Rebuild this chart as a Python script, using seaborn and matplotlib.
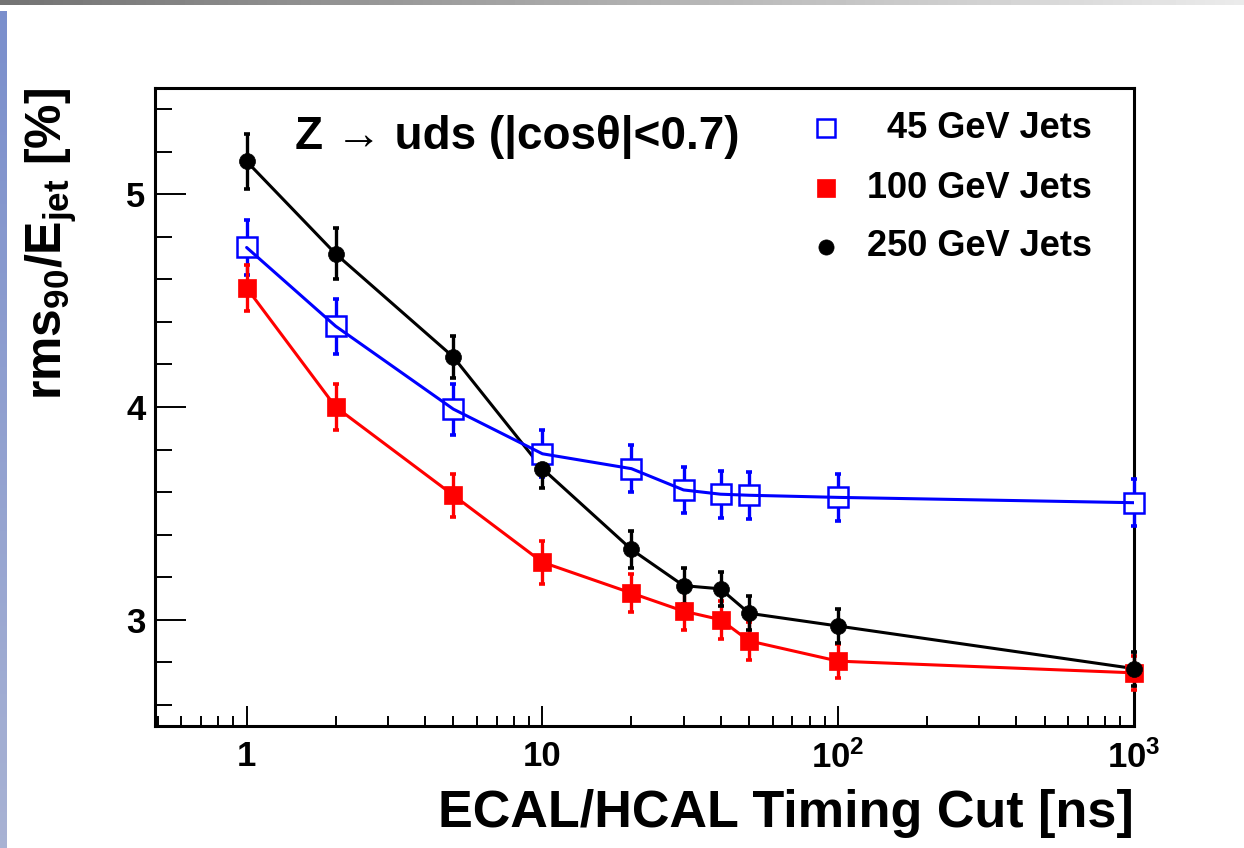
import numpy as np
import pandas as pd
import matplotlib
matplotlib.use("Agg")
import matplotlib.pyplot as plt
import seaborn as sns
from matplotlib.ticker import FixedLocator, NullFormatter, LogLocator, FixedFormatter

# ---------------- data ----------------
cuts = [1, 2, 5, 10, 20, 30, 40, 50, 100, 1000]
res45 = [4.75, 4.38, 3.99, 3.78, 3.71, 3.61, 3.59, 3.585, 3.575, 3.55]
err45 = [0.13, 0.13, 0.12, 0.11, 0.11, 0.11, 0.11, 0.11, 0.11, 0.11]
res100 = [4.56, 4.00, 3.585, 3.27, 3.125, 3.04, 3.00, 2.90, 2.805, 2.75]
err100 = [0.11, 0.11, 0.10, 0.10, 0.09, 0.09, 0.09, 0.09, 0.08, 0.08]
res250 = [5.155, 4.72, 4.235, 3.71, 3.33, 3.16, 3.145, 3.03, 2.97, 2.77]
err250 = [0.13, 0.12, 0.10, 0.09, 0.085, 0.085, 0.08, 0.08, 0.08, 0.08]
labels = ["45 GeV Jets", "100 GeV Jets", "250 GeV Jets"]
xtick_vals = [1, 10, 100, 1000]
xtick_labels = ["1", "10", r"$10^{2}$", r"$10^{3}$"]
ytick_vals = [3, 4, 5]

# ---------------- style ----------------
sns.set_theme(style="white")
plt.rcParams["font.family"] = ["Liberation Sans", "DejaVu Sans"]
plt.rcParams.update({
    "font.weight": "bold",
    "mathtext.fontset": "custom",
    "mathtext.rm": "Liberation Sans:bold",
    "mathtext.it": "Liberation Sans:bold",
    "mathtext.bf": "Liberation Sans:bold",
    "mathtext.sf": "Liberation Sans:bold",
})

W, H = 1244, 848
fig = plt.figure(figsize=(W / 100, H / 100), dpi=100, facecolor="white")

# slide decorations (top grey band, left blue strip)
top = fig.add_axes([0, 1 - 5 / H, 1, 5 / H])
top.imshow(np.linspace(0.45, 0.92, 256)[None, :], cmap="gray", vmin=0, vmax=1,
           aspect="auto", extent=[0, 1, 0, 1])
top.axis("off")
left = fig.add_axes([0, 0, 7 / W, 1 - 11 / H])
grad = np.linspace(0, 1, 256)[:, None, None]
c_top = np.array([0.48, 0.56, 0.80])
c_bot = np.array([0.66, 0.70, 0.83])
left.imshow(c_bot * (1 - grad) + c_top * grad, origin="lower", aspect="auto",
            extent=[0, 1, 0, 1])
left.axis("off")

x0, x1, y0, y1 = 155, 1134, 88, 726
ax = fig.add_axes([x0 / W, 1 - y1 / H, (x1 - x0) / W, (y1 - y0) / H])
ax.set_facecolor("white")

series = [
    (res45, err45, "#0000ff", dict(marker="s", ms=14, mfc="white", mec="#0000ff", mew=1.8)),
    (res100, err100, "#ff0000", dict(marker="s", ms=13, mfc="#ff0000", mec="#ff0000", mew=0.5)),
    (res250, err250, "black", dict(marker="o", ms=11.5, mfc="black", mec="black", mew=0.5)),
]

for i, (res, err, col, mk) in enumerate(series):
    df = pd.DataFrame({"cut": cuts, "res": res})
    line_z = 4.5 if i == 0 else 2
    sns.lineplot(data=df, x="cut", y="res", color=col, lw=2.2, ax=ax,
                 errorbar=None, zorder=line_z, legend=False)
    eb = ax.errorbar(cuts, res, yerr=err, fmt="none", ecolor=col, elinewidth=2.4,
                     capsize=2.5, capthick=2.6, zorder=3)
    for art in eb.lines[1] + eb.lines[2]:
        art.set_clip_on(False)
    ax.plot(cuts, res, ls="none", zorder=4, clip_on=False, **mk)

ax.set_xscale("log")
ax.set_xlim(0.49, 1000)
ax.set_ylim(2.5, 5.5)

ax.xaxis.set_major_locator(FixedLocator(xtick_vals))
ax.xaxis.set_major_formatter(FixedFormatter(xtick_labels))
ax.xaxis.set_minor_locator(LogLocator(base=10, subs=np.arange(2, 10), numticks=20))
ax.xaxis.set_minor_formatter(NullFormatter())
ax.yaxis.set_major_locator(FixedLocator(ytick_vals))
ax.yaxis.set_minor_locator(FixedLocator(np.round(np.arange(2.6, 5.5, 0.2), 2)))

ax.tick_params(axis="x", which="major", direction="in", length=14.5, width=1.4,
               color="black", labelsize=25, pad=10, bottom=True, top=False)
ax.tick_params(axis="x", which="minor", direction="in", length=7.5, width=1.4,
               color="black", bottom=True, top=False)
ax.tick_params(axis="y", which="major", direction="in", length=22, width=1.4,
               color="black", labelsize=25, pad=7, left=True, right=False)
ax.tick_params(axis="y", which="minor", direction="in", length=12, width=1.4,
               color="black", left=True, right=False)
for lab in ax.get_xticklabels() + ax.get_yticklabels():
    lab.set_fontweight("bold")
    lab.set_color("black")

for s in ax.spines.values():
    s.set_visible(True)
    s.set_color("black")
    s.set_linewidth(2.2)

ax.set_xlabel("ECAL/HCAL Timing Cut [ns]", fontsize=37.5, fontweight="bold",
              color="black", loc="right")
ax.xaxis.set_label_coords(1.0, -0.098)
ax.set_ylabel(r"$rms_{90}/E_{jet}$ [%]", fontsize=36, fontweight="bold",
              color="black", loc="top")
ax.yaxis.set_label_coords(-0.078, 1.0)

ax.text(0.143, 0.923, "Z \u2192 uds (|cos\u03b8|<0.7)", transform=ax.transAxes,
        fontsize=33, fontweight="bold", ha="left", va="center", color="black")

# legend (manual, text right-aligned as in ROOT)
leg_y = [0.937, 0.843, 0.751]
for (res, err, col, mk), lab, yy in zip(series, labels, leg_y):
    ax.plot([0.685], [yy], ls="none", transform=ax.transAxes, clip_on=False,
            **{**mk, "ms": mk["ms"] * 0.95})
    ax.text(0.957, yy, lab, transform=ax.transAxes, fontsize=26,
            fontweight="bold", ha="right", va="center", color="black")

fig.savefig("out.png", dpi=100, facecolor="white")
